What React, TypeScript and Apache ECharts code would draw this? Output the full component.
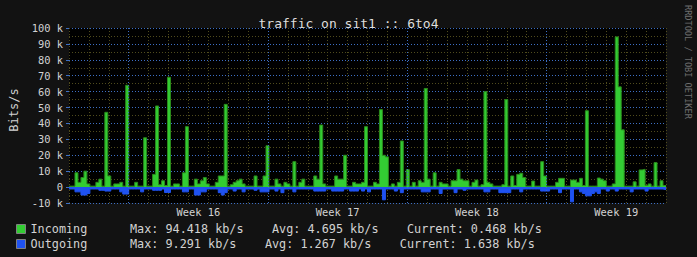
import React, { useEffect, useRef } from 'react';
import * as echarts from 'echarts';

// ---- data ----
const BIN_HOURS = 3.6; // each sample covers 3.6 hours
const RANGE_HOURS = 720; // 30 days shown
const WEEK_HOURS = 168;

const INCOMING = [
  0.6, 0.6, 9, 3, 6, 10, 2, 0.6, 0.6, 3,
  5, 0.6, 47, 7, 0.6, 2, 2, 3, 0.6, 64,
  0.6, 0.6, 3, 0.6, 0.6, 31, 0.6, 0.6, 8, 51,
  1.5, 4, 1, 69, 0.6, 2, 2, 0.6, 9, 38,
  0.6, 0.6, 5, 2, 4, 6, 2, 0.6, 0.6, 3,
  7, 7, 52, 0.6, 1.5, 3, 4, 5, 2, 0.6,
  0.6, 0.6, 7, 0.6, 0.6, 7, 26, 0.6, 0.6, 5,
  2, 0.6, 3, 2, 0.6, 16, 0.6, 3, 5, 0.6,
  0.6, 0.6, 7, 5, 39, 2, 0.6, 0.6, 0.6, 7,
  5, 5, 20, 0.6, 0.6, 3, 2, 2, 3, 38,
  0.6, 0.6, 3, 2, 48.7, 20, 19, 0.6, 2, 0.6,
  3, 29, 0.6, 11, 0.6, 3, 0.6, 4, 3, 62,
  5, 0.6, 9, 0.6, 3, 2, 2, 0.6, 4, 4,
  11, 5, 4, 4, 0.6, 3, 4.4, 0.6, 1.5, 60,
  3, 2, 0.6, 0.6, 0.6, 1.5, 55, 0.6, 7, 1,
  8, 8.7, 6, 0.6, 0.6, 3.8, 0.6, 0.6, 16, 7,
  0.6, 0.6, 0.6, 3, 5.5, 5.5, 0.6, 0.6, 4.4, 4.4,
  3, 5.5, 1, 48, 0.6, 0.6, 0.6, 5.7, 5, 4,
  0.6, 0.6, 2, 94.418, 63, 36, 0.6, 0.6, 0.6, 3.3,
  0.6, 10.8, 11.2, 1, 2, 0.6, 15.4, 0.6, 4, 1,
];

const OUTGOING = [
  -1.2, -1.2, -3, -3, -5, -5, -4, -1.2, -1.2, -1.2,
  -2, -2, -2.5, -2.5, -1.2, -1.2, -1.2, -3, -4.4, -4.4,
  -1.2, -1.2, -1.2, -1.2, -3, -1.2, -1.2, -1.2, -2, -2,
  -2, -1.2, -3.4, -3.4, -1.2, -1.2, -1.2, -1.2, -3, -3,
  -1.2, -1.2, -5, -5, -3, -3, -1.2, -1.2, -1.2, -1.2,
  -3.5, -5, -3.5, -1.2, -1.2, -2.5, -1.2, -1.2, -3, -1.2,
  -1.2, -1.2, -2, -1.2, -3, -3, -3, -1.2, -1.2, -2.5,
  -1.2, -3.5, -1.2, -1.2, -1.2, -3, -1.2, -1.2, -1.2, -1.2,
  -1.2, -1.2, -2.5, -2.5, -2.5, -2.5, -1.2, -1.2, -2.5, -2.5,
  -2.5, -2.5, -1.2, -1.2, -2.5, -2.5, -2.5, -1.2, -2.5, -1.2,
  -3, -1.2, -1.2, -1.2, -1.2, -8, -1.2, -1.2, -1.2, -2.5,
  -1.2, -3.5, -1.2, -1.2, -1.2, -1.2, -1.2, -1.2, -3, -3,
  -3, -1.2, -1.2, -1.2, -4, -1.2, -1.2, -1.2, -1.2, -3.5,
  -1.2, -1.2, -2, -1.2, -1.2, -1.2, -1.2, -1.2, -1.2, -3,
  -3, -1.2, -1.2, -1.2, -3.5, -3.5, -3.5, -3.5, -1.2, -1.2,
  -1.2, -3, -1.2, -1.2, -1.2, -1.2, -1.2, -1.2, -2.5, -2.5,
  -2.5, -1.2, -1.2, -1.2, -3.5, -1.2, -1.2, -1.2, -9.291, -1.2,
  -1.2, -3, -4, -5.5, -5.5, -4, -3, -4, -1.2, -1.2,
  -2.5, -1.2, -1.2, -2.5, -1.2, -1.2, -1.2, -1.2, -3, -1.2,
  -1.2, -1.2, -1.2, -2.5, -1.2, -1.2, -1.2, -1.2, -1.2, -1.6,
];

const SERIES_NAMES = ['Incoming', 'Outgoing'];
const MAX_TEXT = ['94.418', '9.291'];
const AVG_TEXT = ['4.695', '1.267'];
const CURRENT_TEXT = ['0.468', '1.638'];

const WEEK_LABELS = ['Week 16', 'Week 17', 'Week 18', 'Week 19'];
const WEEK_START_HOURS = [72, 240, 408, 576];

// ---- styles ----
const MONO = 'DejaVu Sans Mono';
const GRID_MAJOR = '#3d6fc4';
const GRID_MINOR = '#4f4b1d';
const IN_FILL = '#33cc33';
const IN_LINE = '#2a8a1c';
const OUT_FILL = '#1f52f0';
const TEXT = '#d2d2d2';
const SERIES_FILLS = [IN_FILL, OUT_FILL];
const LEGEND_TOPS = [222, 237];

function toSteps(values: number[]) {
  const pts = values.map((v, i) => [i * BIN_HOURS, v]);
  pts.push([values.length * BIN_HOURS, values[values.length - 1]]);
  return pts;
}

const NB = '\u00a0';
function legendRow(i: number) {
  const gap = NB.repeat(4);
  return (
    SERIES_NAMES[i].padEnd(14, NB) +
    `Max:${NB}${MAX_TEXT[i]}${NB}kb/s` + gap +
    `Avg:${NB}${AVG_TEXT[i]}${NB}kb/s` + gap +
    `Current:${NB}${CURRENT_TEXT[i]}${NB}kb/s`
  );
}

function weekLabel(v: number) {
  for (let i = 0; i < WEEK_START_HOURS.length; i++) {
    if (Math.abs(WEEK_START_HOURS[i] + WEEK_HOURS / 2 - v) < 1e-6) return WEEK_LABELS[i];
  }
  return '';
}

export default function App() {
  const ref = useRef<HTMLDivElement>(null);
  useEffect(() => {
    const chart = echarts.init(ref.current!, null, { renderer: 'svg' });
    const option: any = {
      animation: false,
      backgroundColor: '#121212',
      title: {
        text: 'traffic on sit1 :: 6to4',
        left: 'center',
        top: 12,
        textStyle: { fontFamily: MONO, fontSize: 13, fontWeight: 'normal', color: '#dedede' },
      },
      grid: { left: 66, top: 28, width: 600, height: 175, show: true, backgroundColor: '#000000', borderWidth: 0 },
      xAxis: [
        {
          type: 'value', min: 0, max: RANGE_HOURS, interval: 24,
          axisLine: { show: false },
          axisTick: { show: true, length: 2, lineStyle: { color: GRID_MINOR } },
          axisLabel: { show: false },
          splitLine: { show: true, lineStyle: { color: GRID_MINOR, type: [1, 2], width: 1 } },
        },
        {
          type: 'value', min: 0, max: RANGE_HOURS, interval: 12, position: 'bottom',
          axisLine: { show: false }, axisTick: { show: false }, splitLine: { show: false },
          axisLabel: { formatter: weekLabel, color: TEXT, fontFamily: MONO, fontSize: 10.4, margin: 4 },
        },
      ],
      yAxis: {
        type: 'value', min: -10, max: 100, interval: 10,
        name: 'Bits/s', nameLocation: 'middle', nameRotate: 90, nameGap: 49,
        nameTextStyle: { fontFamily: MONO, fontSize: 12, color: TEXT, padding: [0, 0, 0, 11] },
        axisLine: { show: false },
        axisTick: { show: true, length: 3, lineStyle: { color: GRID_MAJOR } },
        axisLabel: {
          formatter: (v: number) => (v === 0 ? '0' : `${v} k`),
          color: TEXT, fontFamily: MONO, fontSize: 10.4, margin: 6,
        },
        splitLine: { show: true, lineStyle: { color: GRID_MAJOR, type: [1, 2], width: 1 } },
        minorTick: { show: false, splitNumber: 2 },
        minorSplitLine: { show: true, lineStyle: { color: GRID_MINOR, type: [1, 2], width: 1 } },
      },
      legend: SERIES_NAMES.map((n, i) => ({
        orient: 'horizontal', left: 16, top: LEGEND_TOPS[i], padding: 0,
        itemWidth: 9, itemHeight: 9, icon: 'rect', selectedMode: false,
        textStyle: { fontFamily: MONO, fontSize: 11.8, color: TEXT, lineHeight: 14 },
        data: [{
          name: n,
          itemStyle: { color: SERIES_FILLS[i], borderColor: '#808080', borderWidth: 1 },
        }],
        formatter: () => legendRow(i),
      })),
      graphic: [
        {
          type: 'text', x: 692, y: 5, rotation: -Math.PI / 2, silent: true,
          style: {
            text: 'RRDTOOL / TOBI OETIKER', fill: '#6e6e6e',
            font: `8.6px "${MONO}"`, textAlign: 'left', textVerticalAlign: 'top',
          },
        },
      ],
      series: [
        {
          name: SERIES_NAMES[0], type: 'line', step: 'end', symbol: 'none',
          data: toSteps(INCOMING),
          itemStyle: { color: IN_FILL },
          lineStyle: { color: IN_LINE, width: 1 },
          areaStyle: { color: IN_FILL, opacity: 1 },
          z: 2,
          markLine: {
            silent: true, symbol: ['none', 'none'], label: { show: false },
            lineStyle: { color: GRID_MAJOR, type: [1, 2], width: 1 },
            data: WEEK_START_HOURS.map((h) => ({ xAxis: h })),
          },
        },
        {
          name: SERIES_NAMES[1], type: 'line', step: 'end', symbol: 'none',
          data: toSteps(OUTGOING),
          itemStyle: { color: OUT_FILL },
          lineStyle: { color: OUT_FILL, width: 1 },
          areaStyle: { color: OUT_FILL, opacity: 1 },
          z: 3,
        },
      ],
    };
    chart.setOption(option);
    return () => chart.dispose();
  }, []);
  return <div ref={ref} style={{ position: 'fixed', left: 0, top: 0, width: 697, height: 257 }} />;
}
